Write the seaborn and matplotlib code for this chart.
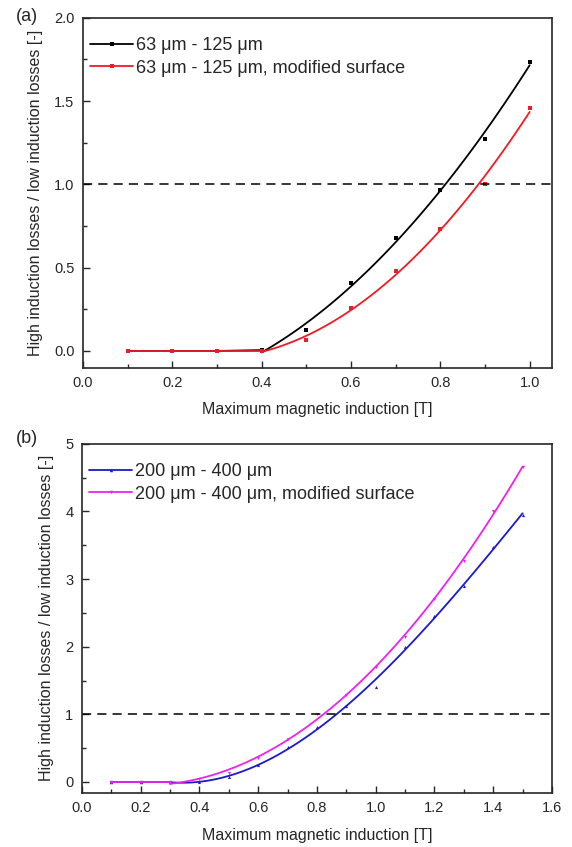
import numpy as np
import pandas as pd
import matplotlib
matplotlib.use("Agg")
import matplotlib.pyplot as plt
import seaborn as sns

# panel (a): 63 um - 125 um
x_a = [0.1, 0.2, 0.3, 0.4, 0.5, 0.6, 0.7, 0.8, 0.9, 1.0]
y_a_plain = [0.0, 0.0, 0.0, 0.005, 0.126, 0.407, 0.678, 0.966, 1.275, 1.735]
y_a_mod = [0.0, 0.0, 0.0, 0.0, 0.068, 0.256, 0.48, 0.735, 1.0, 1.46]

# panel (b): 200 um - 400 um
x_b = [0.1, 0.2, 0.3, 0.4, 0.5, 0.6, 0.7, 0.8, 0.9, 1.0, 1.1, 1.2, 1.3, 1.4, 1.5]
y_b_plain = [0.0, 0.0, 0.0, 0.0, 0.07, 0.255, 0.51, 0.81, 1.13, 1.40, 2.0, 2.45, 2.90, 3.48, 3.95]
y_b_mod = [0.0, 0.0, 0.0, 0.04, 0.13, 0.36, 0.635, 1.0, 1.285, 1.70, 2.15, 2.71, 3.27, 4.01, 4.65]

labels_a = ["63 \u03bcm - 125 \u03bcm", "63 \u03bcm - 125 \u03bcm, modified surface"]
labels_b = ["200 \u03bcm - 400 \u03bcm", "200 \u03bcm - 400 \u03bcm, modified surface"]

sns.set_style("ticks")
plt.rcParams['font.family'] = ['Liberation Sans', 'DejaVu Sans']
plt.rcParams['axes.linewidth'] = 1.2


def draw_series(ax, x, y, x_start, color, marker, label, order):
    df = pd.DataFrame({"x": x, "y": y})
    flat = df[df.x <= x_start]
    rest = df[df.x > x_start]
    fit = df[df.x >= x_start]
    # flat part joins the points, then a polynomial fit from x_start on
    sns.lineplot(data=flat, x="x", y="y", ax=ax, color=color, marker=marker,
                 markersize=2.5, markeredgewidth=0, linewidth=1.3, label=label)
    sns.scatterplot(data=rest, x="x", y="y", ax=ax, color=color, marker=marker,
                    s=5, linewidth=0)
    sns.regplot(data=fit, x="x", y="y", ax=ax, order=order, ci=None, scatter=False,
                truncate=True, color=color, line_kws={"linewidth": 1.3})


def style_axes(ax, xlim, ylim, xmajor, xminor, ymajor, yminor):
    ax.axhline(1.0, color="black", linestyle=(0, (6, 4)), linewidth=1.1)
    ax.set_xlim(*xlim)
    ax.set_ylim(*ylim)
    ax.set_xticks(xmajor)
    ax.set_xticks(xminor, minor=True)
    ax.set_yticks(ymajor)
    ax.set_yticks(yminor, minor=True)
    ax.tick_params(which="both", direction="in", labelsize=10.5, width=1.0, pad=6)
    ax.tick_params(which="major", length=5)
    ax.tick_params(which="minor", length=3)
    ax.set_xlabel("Maximum magnetic induction [T]", fontsize=11.5, labelpad=9)
    ax.set_ylabel("High induction losses / low induction losses [-]", fontsize=11.5, labelpad=8)
    for s in ax.spines.values():
        s.set_visible(True)
    ax.legend(loc="upper left", frameon=False, fontsize=13, handlelength=2.4,
              handletextpad=0.15, labelspacing=0.3, borderaxespad=0.0,
              bbox_to_anchor=(0.0, 0.965))


fig = plt.figure(figsize=(5.72, 8.47), dpi=100)
ax1 = fig.add_axes([0.145, 0.566, 0.82, 0.413])
ax2 = fig.add_axes([0.143, 0.064, 0.822, 0.412])

draw_series(ax1, x_a, y_a_plain, 0.4, "black", "s", labels_a[0], 2)
draw_series(ax1, x_a, y_a_mod, 0.4, "#ee1c24", "s", labels_a[1], 2)
style_axes(ax1, (0.0, 1.05), (-0.1, 2.0),
           np.arange(0, 1.01, 0.2), np.arange(0.1, 1.01, 0.2),
           np.arange(0, 2.01, 0.5), np.arange(0.25, 2.0, 0.5))
ax1.set_xticklabels(["0.0", "0.2", "0.4", "0.6", "0.8", "1.0"])
ax1.set_yticklabels(["0.0", "0.5", "1.0", "1.5", "2.0"])

draw_series(ax2, x_b, y_b_plain, 0.3, "#1a1acc", "^", labels_b[0], 3)
draw_series(ax2, x_b, y_b_mod, 0.3, "#ee22ee", "v", labels_b[1], 3)
style_axes(ax2, (0.0, 1.6), (-0.16, 5.0),
           np.arange(0, 1.61, 0.2), np.arange(0.1, 1.6, 0.2),
           np.arange(0, 5.01, 1), np.arange(0.5, 5.0, 1))
ax2.set_xticklabels(["0.0", "0.2", "0.4", "0.6", "0.8", "1.0", "1.2", "1.4", "1.6"])

fig.text(0.027, 0.991, "(a)", fontsize=13, va="top")
fig.text(0.027, 0.492, "(b)", fontsize=13, va="top")

fig.savefig("out.png", dpi=100)
